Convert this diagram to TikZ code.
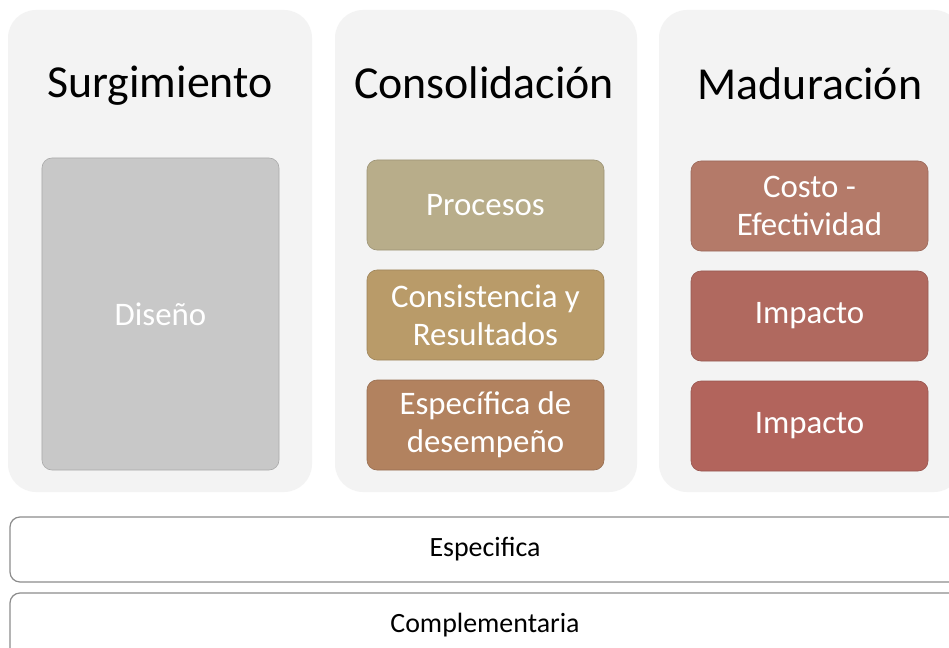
\documentclass[tikz,border=0pt]{standalone}
\usepackage{fontspec}
\setmainfont{Carlito}
\definecolor{panelc}{RGB}{243,243,243}
\definecolor{diseno}{RGB}{200,200,200}
\definecolor{procc}{RGB}{184,173,138}
\definecolor{consc}{RGB}{185,155,105}
\definecolor{espc}{RGB}{178,130,95}
\definecolor{costc}{RGB}{180,122,105}
\definecolor{impa}{RGB}{176,105,95}
\definecolor{impb}{RGB}{178,100,92}
\definecolor{barline}{RGB}{140,140,140}
\tikzset{
  panel/.style={fill=panelc, rounded corners=28bp},
  title/.style={anchor=base, font=\fontsize{46}{50}\selectfont, text=black},
  box/.style={rounded corners=10bp, minimum width=237bp, minimum height=90bp,
    text=white, align=center, font=\fontsize{33}{38}\selectfont, inner sep=0pt,
    draw=#1!85!black, fill=#1, line width=0.6bp},
  bar/.style={draw=barline, line width=1.2bp, fill=white, rounded corners=10bp,
    minimum width=950bp, minimum height=65bp, inner sep=0pt,
    font=\fontsize{28}{32}\selectfont, text=black}
}
\begin{document}
\begin{tikzpicture}[x=1bp,y=-1bp]
\useasboundingbox (0,0) rectangle (949,648);
\clip (0,0) rectangle (949,648);
\fill[white] (0,0) rectangle (949,648);
% column panels
\fill[panel] (8,10) rectangle (312,492);
\fill[panel] (335,10) rectangle (637,492);
\fill[panel] (659,10) rectangle (962,492);
% titles
\node[title] (t1) at (160,98) {Surgimiento};
\node[title] (t2) at (484,99) {Consolidación};
\node[title] (t3) at (810,100) {Maduración};
% boxes
\node[box=diseno, minimum height=312bp] (dis) at (160.5,314) {Diseño};
\node[box=procc] (proc) at (485.5,205) {Procesos};
\node[box=consc] (cons) at (485.5,315) {Consistencia y\\Resultados};
\node[box=espc] (espd) at (485.5,425) {Específica de\\desempeño};
\node[box=costc] (cost) at (809.5,206) {Costo -\\Efectividad};
\node[box=impa] (imp1) at (809.5,316) {Impacto};
\node[box=impb] (imp2) at (809.5,426) {Impacto};
% bottom bars
\node[bar] (espe) at (485,549.5) {Especifica};
\node[bar] (comp) at (485,625.5) {Complementaria};
\end{tikzpicture}
\end{document}
